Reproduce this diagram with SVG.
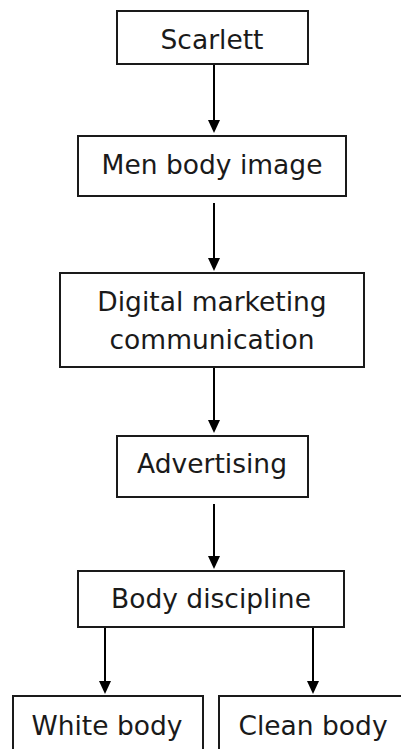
<svg xmlns="http://www.w3.org/2000/svg" width="401" height="749" viewBox="0 0 401 749">
  <style>
    .box { fill: #ffffff; stroke: #1a1a1a; stroke-width: 2; }
    .lbl { font-family: "DejaVu Sans", Verdana, sans-serif; font-size: 26.5px; fill: #1a1a1a; text-anchor: middle; }
    .conn { stroke: #000000; stroke-width: 2; fill: none; marker-end: url(#arrow); }
  </style>
  <defs>
    <marker id="arrow" markerUnits="userSpaceOnUse" markerWidth="12" markerHeight="13" refX="6" refY="13" orient="auto-start-reverse" viewBox="0 0 12 13">
      <path d="M0,0 L12,0 L6,13 Z" fill="#000000" transform="rotate(0)"/>
    </marker>
  </defs>
  <rect width="401" height="749" fill="#ffffff"/>

  <g id="connectors">
    <path d="M214,65 V120" stroke="#000" stroke-width="2"/>
    <path d="M208,120 L220,120 L214,133 Z" fill="#000"/>
    <path d="M214,203 V258" stroke="#000" stroke-width="2"/>
    <path d="M208,258 L220,258 L214,271 Z" fill="#000"/>
    <path d="M214,367 V420" stroke="#000" stroke-width="2"/>
    <path d="M208,420 L220,420 L214,433 Z" fill="#000"/>
    <path d="M214,504 V556" stroke="#000" stroke-width="2"/>
    <path d="M208,556 L220,556 L214,569 Z" fill="#000"/>
    <path d="M105,627 V681" stroke="#000" stroke-width="2"/>
    <path d="M99,681 L111,681 L105,694 Z" fill="#000"/>
    <path d="M313,627 V681" stroke="#000" stroke-width="2"/>
    <path d="M307,681 L319,681 L313,694 Z" fill="#000"/>
  </g>

  <g id="scarlett">
    <rect class="box" x="117" y="11" width="191" height="53"/>
    <text class="lbl" x="212" y="49">Scarlett</text>
  </g>
  <g id="men-body-image">
    <rect class="box" x="78" y="136" width="268" height="60"/>
    <text class="lbl" x="212" y="174">Men body image</text>
  </g>
  <g id="digital-marketing-communication">
    <rect class="box" x="60" y="273" width="304" height="94"/>
    <text class="lbl" x="212" y="311">Digital marketing</text>
    <text class="lbl" x="212" y="349">communication</text>
  </g>
  <g id="advertising">
    <rect class="box" x="117" y="436" width="191" height="61"/>
    <text class="lbl" x="212" y="473">Advertising</text>
  </g>
  <g id="body-discipline">
    <rect class="box" x="78" y="571" width="266" height="56"/>
    <text class="lbl" x="211" y="608">Body discipline</text>
  </g>
  <g id="white-body">
    <rect class="box" x="13" y="696" width="190" height="70"/>
    <text class="lbl" x="107" y="735">White body</text>
  </g>
  <g id="clean-body">
    <rect class="box" x="219" y="696" width="190" height="70"/>
    <text class="lbl" x="313" y="735">Clean body</text>
  </g>
</svg>
